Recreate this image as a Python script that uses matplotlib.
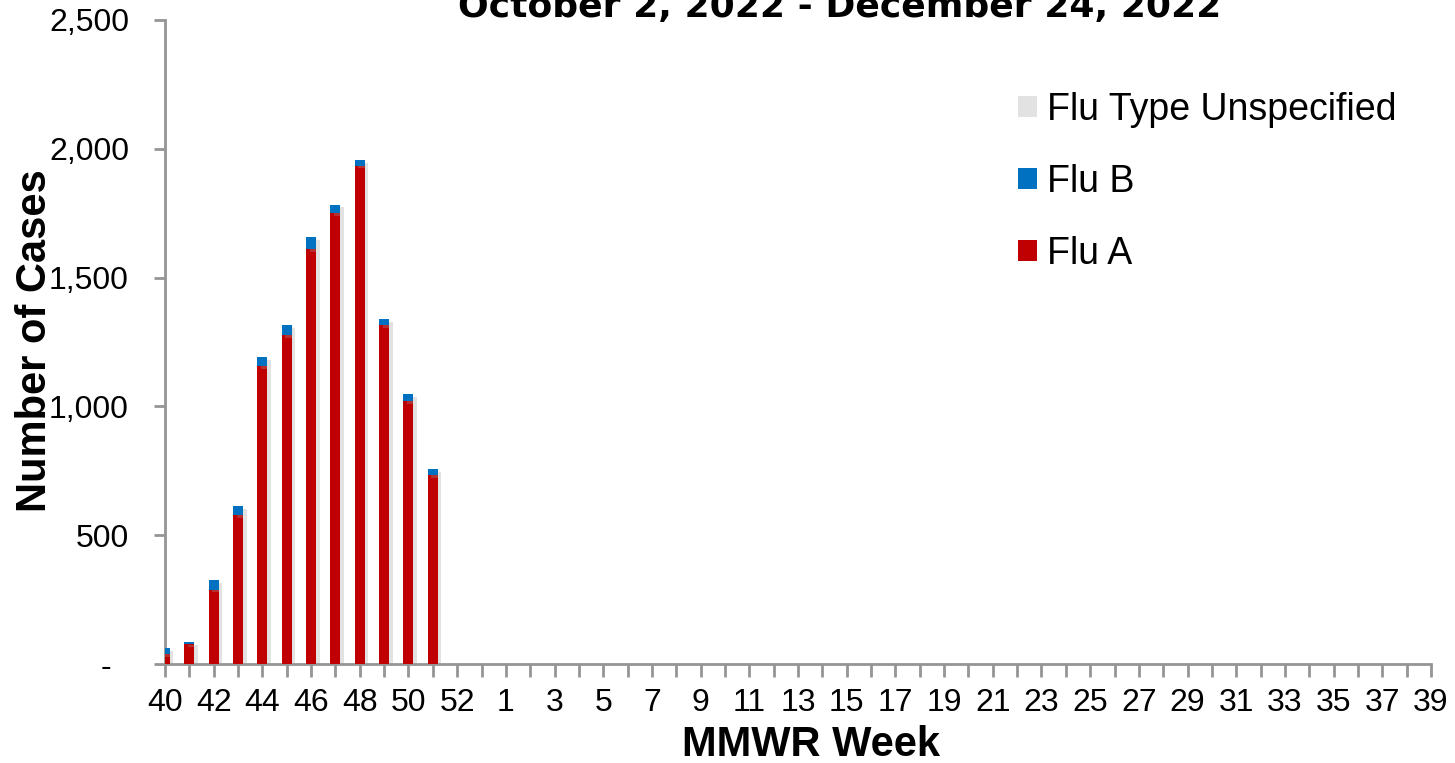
import matplotlib
matplotlib.use("Agg")
import matplotlib.pyplot as plt
import matplotlib.patheffects as pe
from matplotlib.patches import Patch
import numpy as np

weeks = [str(w) for w in range(40, 54)] + [str(w) for w in range(1, 40)]
flu_a = [39, 78, 289, 579, 1157, 1278, 1612, 1751, 1935, 1317, 1021, 734]
flu_b = [23, 7, 37, 35, 35, 39, 46, 32, 22, 23, 28, 23]
flu_unspecified = [0, 0, 0, 0, 0, 0, 0, 0, 0, 0, 0, 0]

title = "October 2, 2022 - December 24, 2022"
ytick_vals = [0, 500, 1000, 1500, 2000, 2500]
ytick_labels = ["-  ", "500", "1,000", "1,500", "2,000", "2,500"]

RED = "#c00000"
BLUE = "#0070c0"
GRAY_AX = "#959595"
W, H = 1455, 763

plt.rcParams["font.family"] = ["Liberation Sans", "DejaVu Sans"]

fig = plt.figure(figsize=(W / 100, H / 100), dpi=100)
ax = fig.add_axes([165 / W, 1 - 664 / H, (1431 - 165) / W, (664 - 20) / H])

n = len(flu_a)
x = np.arange(n)
a = np.array(flu_a)
b = np.array(flu_b)
u = np.array(flu_unspecified)
shadow = [pe.SimplePatchShadow(offset=(2.5, -2), shadow_rgbFace="#a0a0a0", alpha=0.3), pe.Normal()]
bars_a = ax.bar(x, a, width=0.41, color=RED, zorder=3)
bars_b = ax.bar(x, b, width=0.41, bottom=a, color=BLUE, zorder=3)
bars_u = ax.bar(x, u, width=0.41, bottom=a + b, color="#e6e6e6", zorder=3)
for bc in (bars_a, bars_b):
    for r in bc:
        r.set_path_effects(shadow)

ax.set_xlim(0, len(weeks) - 1)
ax.set_ylim(0, 2500)
ax.set_xticks(np.arange(len(weeks)))
xlabels = []
for i, w in enumerate(weeks):
    xlabels.append(w if i % 2 == 0 else "")
ax.set_xticklabels(xlabels, fontsize=23)
ax.set_yticks(ytick_vals)
ax.set_yticklabels(ytick_labels, fontsize=23)

for s in ("top", "right"):
    ax.spines[s].set_visible(False)
for s in ("left", "bottom"):
    ax.spines[s].set_color(GRAY_AX)
    ax.spines[s].set_linewidth(2)
ax.tick_params(axis="x", length=9, width=2, color=GRAY_AX, pad=8)
ax.tick_params(axis="y", length=8, width=2, color=GRAY_AX, pad=18)

fig.text(811 / W, 1 - 756 / H, "MMWR Week", ha="center", va="baseline",
         fontsize=30, fontweight="bold")
fig.text(35 / W, 1 - 341 / H, "Number of Cases", ha="center", va="center",
         rotation=90, fontsize=30, fontweight="bold")

fig.text(840 / W, 1 - 17 / H, title, ha="center", va="baseline",
         fontsize=26, fontweight="bold", family="DejaVu Sans")

handles = [Patch(facecolor="#e2e2e2", edgecolor="none", label="Flu Type Unspecified"),
           Patch(facecolor=BLUE, edgecolor="none", label="Flu B"),
           Patch(facecolor=RED, edgecolor="none", label="Flu A")]
leg = ax.legend(handles=handles, loc="upper left", bbox_to_anchor=(1018 / W, 1 - 92 / H),
                bbox_transform=fig.transFigure, frameon=False, fontsize=27,
                handlelength=0.5, handleheight=0.5, handletextpad=0.27, labelspacing=0.96,
                borderpad=0, borderaxespad=0)

fig.savefig("out.png", dpi=100)
